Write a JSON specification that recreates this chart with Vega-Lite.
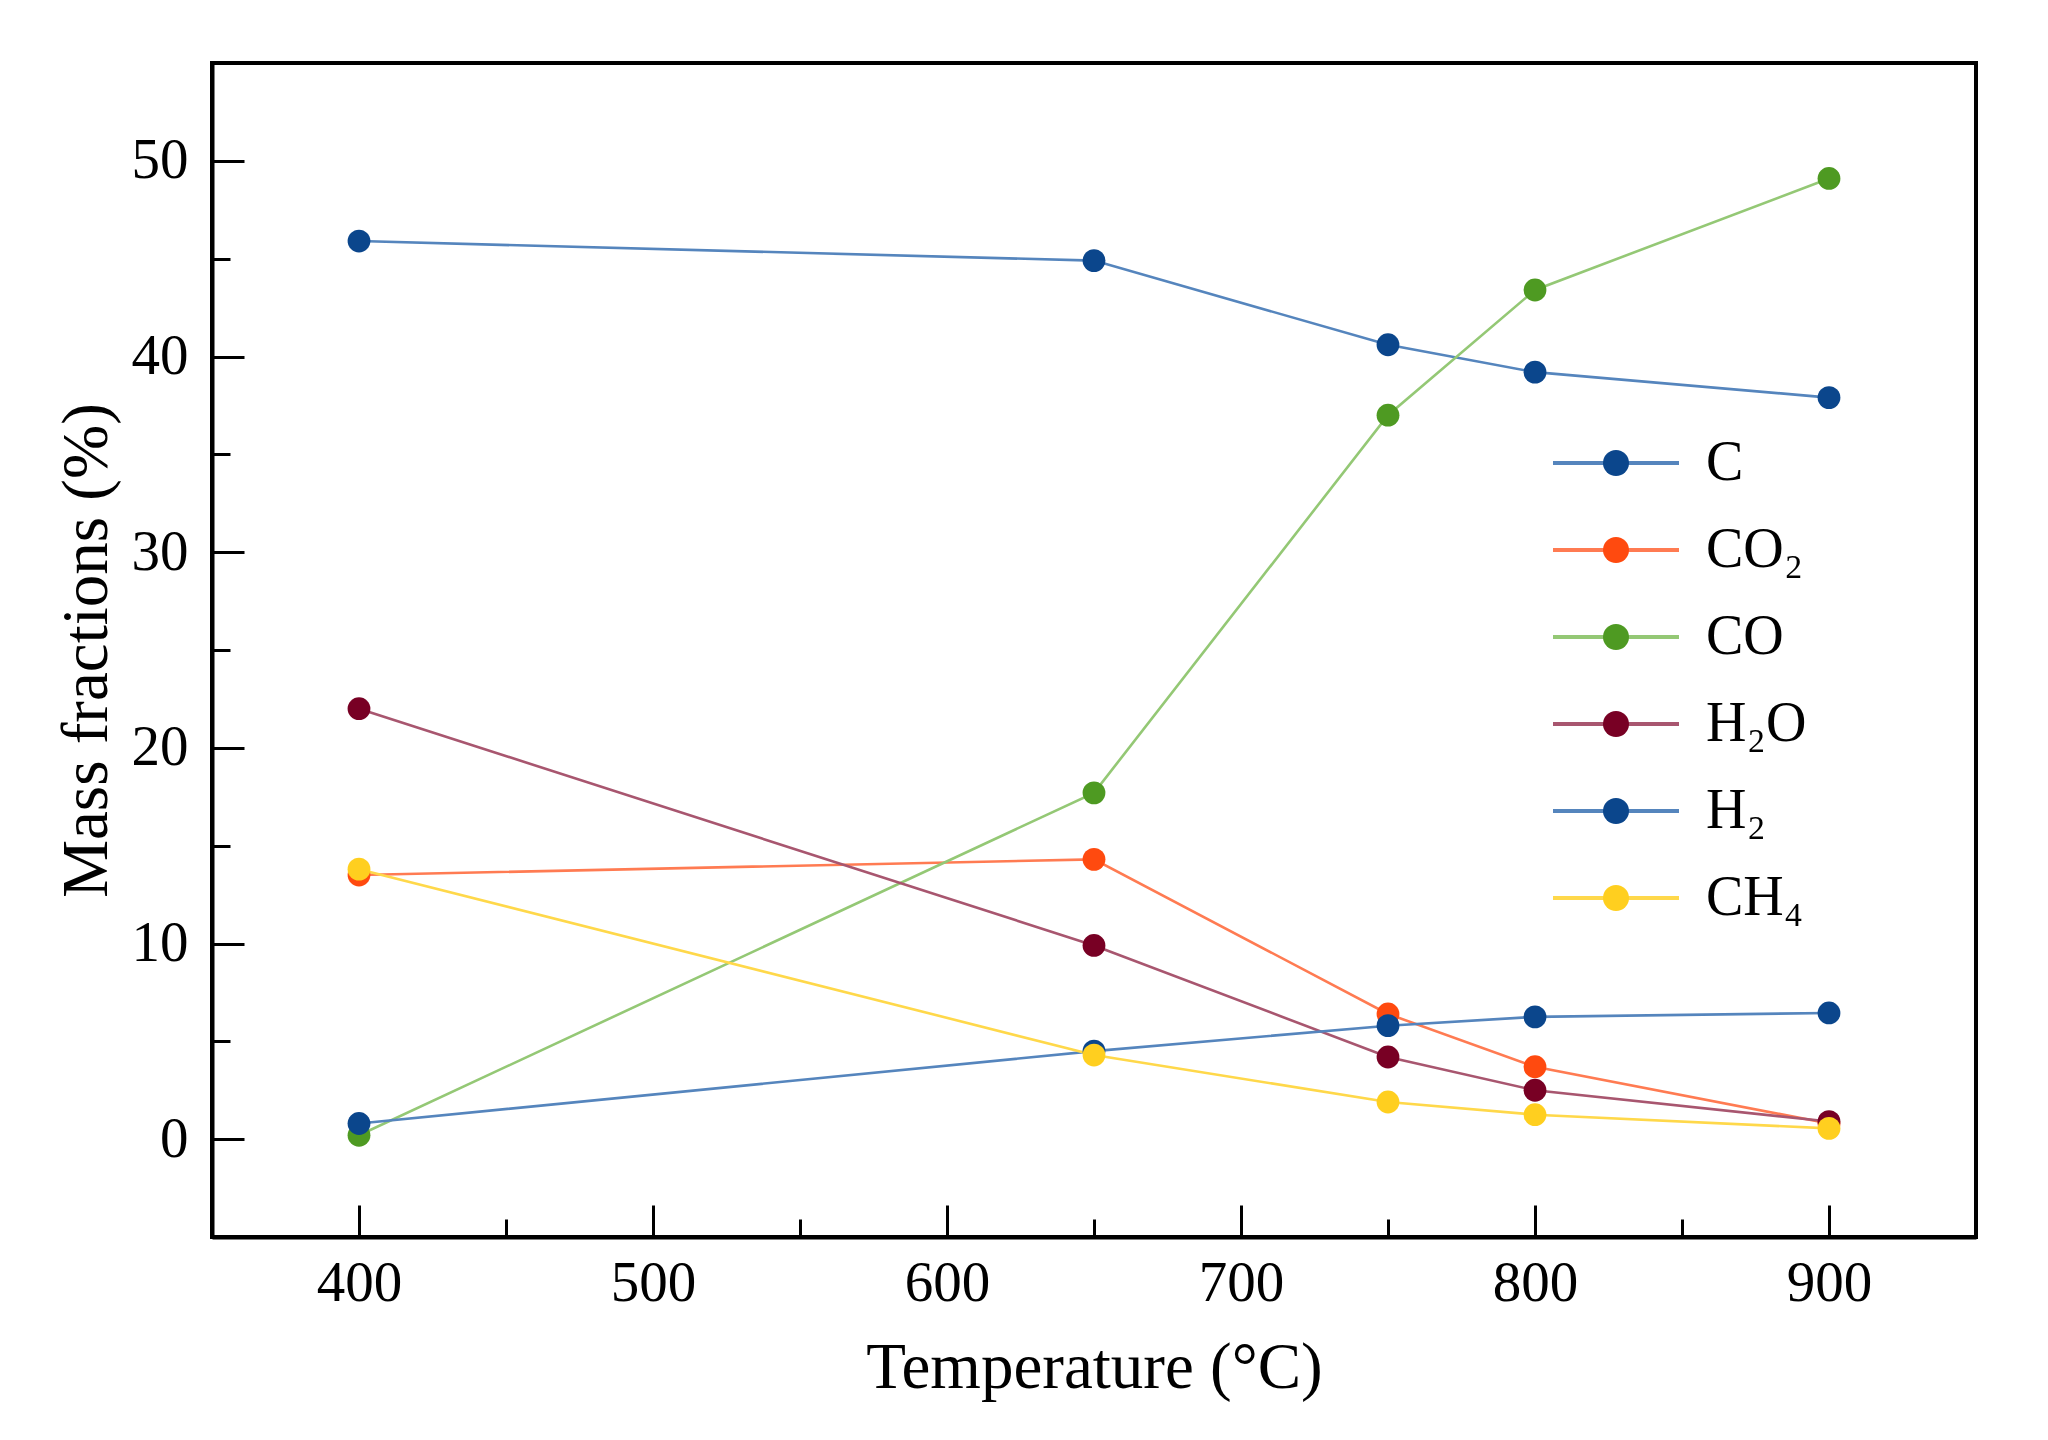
{
  "$schema": "https://vega.github.io/schema/vega-lite/v6.json",
  "width": 1764,
  "height": 1174,
  "autosize": "none",
  "padding": {"left": 212, "top": 63, "right": 72, "bottom": 203},
  "background": "white",
  "config": {
    "font": "Liberation Serif",
    "view": {"stroke": "black", "strokeWidth": 4},
    "axis": {
      "grid": false,
      "domainColor": "black",
      "domainWidth": 4,
      "tickColor": "black",
      "tickWidth": 3,
      "labelColor": "black",
      "labelFont": "Liberation Serif",
      "labelFontSize": 57,
      "titleColor": "black",
      "titleFont": "Liberation Serif",
      "titleFontWeight": "normal",
      "titleFontSize": 65
    },
    "legend": {
      "labelFont": "Liberation Serif",
      "labelFontSize": 56,
      "labelColor": "black"
    }
  },
  "data": {
    "values": [
      {"species": "C", "temperature": 400, "fraction": 45.9},
      {"species": "C", "temperature": 650, "fraction": 44.9},
      {"species": "C", "temperature": 750, "fraction": 40.6},
      {"species": "C", "temperature": 800, "fraction": 39.2},
      {"species": "C", "temperature": 900, "fraction": 37.9},
      {"species": "CO₂", "temperature": 400, "fraction": 13.5},
      {"species": "CO₂", "temperature": 650, "fraction": 14.3},
      {"species": "CO₂", "temperature": 750, "fraction": 6.4},
      {"species": "CO₂", "temperature": 800, "fraction": 3.7},
      {"species": "CO₂", "temperature": 900, "fraction": 0.8},
      {"species": "CO", "temperature": 400, "fraction": 0.2},
      {"species": "CO", "temperature": 650, "fraction": 17.7},
      {"species": "CO", "temperature": 750, "fraction": 37.0},
      {"species": "CO", "temperature": 800, "fraction": 43.4},
      {"species": "CO", "temperature": 900, "fraction": 49.1},
      {"species": "H₂O", "temperature": 400, "fraction": 22.0},
      {"species": "H₂O", "temperature": 650, "fraction": 9.9},
      {"species": "H₂O", "temperature": 750, "fraction": 4.2},
      {"species": "H₂O", "temperature": 800, "fraction": 2.5},
      {"species": "H₂O", "temperature": 900, "fraction": 0.9},
      {"species": "H₂", "temperature": 400, "fraction": 0.8},
      {"species": "H₂", "temperature": 650, "fraction": 4.5},
      {"species": "H₂", "temperature": 750, "fraction": 5.8},
      {"species": "H₂", "temperature": 800, "fraction": 6.25},
      {"species": "H₂", "temperature": 900, "fraction": 6.45},
      {"species": "CH₄", "temperature": 400, "fraction": 13.8},
      {"species": "CH₄", "temperature": 650, "fraction": 4.3},
      {"species": "CH₄", "temperature": 750, "fraction": 1.9},
      {"species": "CH₄", "temperature": 800, "fraction": 1.25},
      {"species": "CH₄", "temperature": 900, "fraction": 0.55}
    ]
  },
  "layer": [
    {
      "mark": {"type": "line", "strokeWidth": 2.6},
      "encoding": {
        "x": {
          "field": "temperature",
          "type": "quantitative",
          "scale": {"domain": [350, 950], "nice": false, "zero": false},
          "axis": {
            "orient": "bottom",
            "values": [400, 500, 600, 700, 800, 900],
            "tickSize": -32,
            "labelPadding": 50,
            "title": "Temperature (°C)",
            "titleY": 150,
            "titleBaseline": "alphabetic"
          }
        },
        "y": {
          "field": "fraction",
          "type": "quantitative",
          "scale": {"domain": [-5, 55], "nice": false, "zero": false},
          "axis": {
            "orient": "left",
            "values": [0, 10, 20, 30, 40, 50],
            "tickSize": -32,
            "labelPadding": 56,
            "title": "Mass fractions (%)",
            "titleX": -106,
            "titleAngle": -90,
            "titleAlign": "center",
            "titleBaseline": "alphabetic"
          }
        },
        "stroke": {
          "field": "species",
          "type": "nominal",
          "scale": {
            "domain": ["CH₄", "H₂", "H₂O", "CO", "CO₂", "C"],
            "range": ["#ffd84a", "#5585bd", "#a8566f", "#94c875", "#ff7b52", "#5585bd"]
          },
          "legend": {
            "orient": "none",
            "legendX": 1376,
            "legendY": 372,
            "title": null,
            "values": ["C", "CO₂", "CO", "H₂O", "H₂", "CH₄"],
            "symbolType": "M-5.25,0H5.25",
            "symbolSize": 576,
            "symbolStrokeWidth": 4,
            "labelOpacity": 0,
            "labelOffset": 62,
            "rowPadding": 31
          }
        }
      }
    },
    {
      "mark": {"type": "point", "filled": true, "size": 520, "opacity": 1},
      "encoding": {
        "x": {
          "field": "temperature",
          "type": "quantitative",
          "scale": {"domain": [350, 950], "nice": false, "zero": false},
          "axis": {
            "orient": "bottom",
            "values": [450, 550, 650, 750, 850],
            "tickSize": -18,
            "labels": false,
            "domain": false,
            "title": null
          }
        },
        "y": {
          "field": "fraction",
          "type": "quantitative",
          "scale": {"domain": [-5, 55], "nice": false, "zero": false},
          "axis": {
            "orient": "left",
            "values": [5, 15, 25, 35, 45],
            "tickSize": -18,
            "labels": false,
            "domain": false,
            "title": null
          }
        },
        "fill": {
          "field": "species",
          "type": "nominal",
          "scale": {
            "domain": ["C", "CO₂", "CO", "H₂O", "H₂", "CH₄"],
            "range": ["#0b468c", "#ff4a0f", "#4e9a22", "#780024", "#0b468c", "#ffcf1f"]
          },
          "legend": {
            "orient": "none",
            "legendX": 1376,
            "legendY": 372,
            "title": null,
            "symbolType": "circle",
            "symbolSize": 676,
            "symbolStrokeWidth": 0,
            "labelOffset": 62,
            "rowPadding": 31
          }
        }
      }
    }
  ],
  "resolve": {"axis": {"x": "independent", "y": "independent"}}
}
